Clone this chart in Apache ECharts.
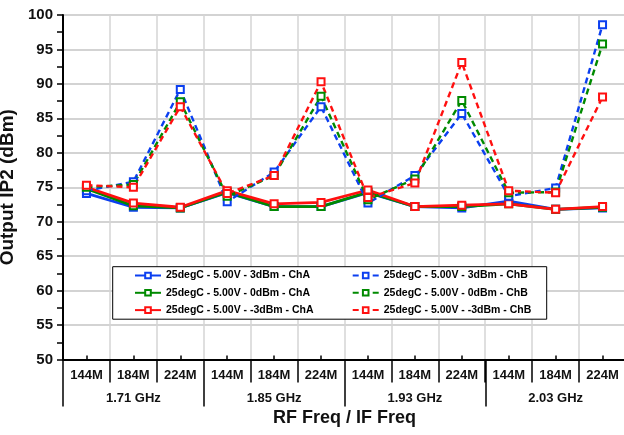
<!DOCTYPE html>
<html>
<head>
<meta charset="utf-8">
<script src="https://cdn.jsdelivr.net/npm/echarts@6/dist/echarts.min.js"></script>
<style>
  html, body { margin: 0; padding: 0; background: #fff; }
  #chart { width: 624px; height: 435px; }
</style>
</head>
<body>
<div id="chart"></div>
<script>
// categorias del eje X (IF) y grupos (RF)
const ifFreqs = ['144M', '184M', '224M', '144M', '184M', '224M', '144M', '184M', '224M', '144M', '184M', '224M'];
const rfFreqs = ['1.71 GHz', '1.85 GHz', '1.93 GHz', '2.03 GHz'];

// valores (dBm)
const blueA  = [74.1, 72.1, 72.0, 74.2, 72.2, 72.2, 74.2, 72.2, 72.0, 73.0, 71.8, 72.0];
const greenA = [74.8, 72.3, 72.0, 74.3, 72.2, 72.2, 74.3, 72.2, 72.2, 72.6, 71.8, 72.1];
const redA   = [75.0, 72.7, 72.1, 74.5, 72.6, 72.8, 74.6, 72.2, 72.4, 72.6, 71.8, 72.2];
const blueB  = [74.5, 75.8, 89.2, 72.9, 77.2, 86.7, 72.7, 76.7, 85.7, 73.7, 74.9, 98.6];
const greenB = [75.0, 75.4, 87.4, 73.7, 76.7, 88.2, 73.2, 76.2, 87.6, 74.2, 74.3, 95.8];
const redB   = [75.3, 75.0, 86.7, 74.1, 76.7, 90.3, 73.5, 75.6, 93.1, 74.5, 74.2, 88.1];

const seriesNames = [
  '25degC - 5.00V - 3dBm - ChA',
  '25degC - 5.00V - 0dBm - ChA',
  '25degC - 5.00V - -3dBm - ChA',
  '25degC - 5.00V - 3dBm - ChB',
  '25degC - 5.00V - 0dBm - ChB',
  '25degC - 5.00V - -3dBm - ChB'
];

const BLUE = '#0b3ff0';
const GREEN = '#008a00';
const RED = '#ff1010';
const FONT = '"Liberation Sans", Arial, sans-serif';

function linea(nombre, datos, color, discontinua) {
  return {
    name: nombre,
    type: 'line',
    data: datos,
    symbol: 'emptyRect',
    symbolSize: 7,
    xAxisIndex: 0,
    color: color,
    itemStyle: { color: color, borderColor: color, borderWidth: 1.2 },
    lineStyle: {
      color: color,
      width: discontinua ? 2.4 : 2.8,
      type: discontinua ? [6, 4] : 'solid'
    },
    emphasis: { disabled: true },
    animation: false
  };
}

const chart = echarts.init(document.getElementById('chart'));

const legendBase = {
  orient: 'vertical',
  padding: 0,
  itemWidth: 26,
  itemHeight: 7,
  itemGap: 5.3,
  textStyle: { fontFamily: FONT, fontWeight: 'bold', fontSize: 10.5, color: '#000', lineHeight: 12 },
  selectedMode: false
};

chart.setOption({
  backgroundColor: '#fff',
  animation: false,
  grid: { left: 63, right: -2, top: 15, bottom: 75.5, outerBoundsMode: 'none' },
  graphic: [{
    type: 'rect',
    z: 1,
    shape: { x: 112.7, y: 266.7, width: 434, height: 52.5 },
    style: { fill: '#fff', stroke: '#000', lineWidth: 1 }
  }],
  legend: [
    Object.assign({}, legendBase, { left: 134, top: 269.5, data: seriesNames.slice(0, 3) }),
    Object.assign({}, legendBase, { left: 351.7, top: 269.5, data: seriesNames.slice(3) })
  ],
  xAxis: [
    {
      type: 'category',
      data: ifFreqs,
      position: 'bottom',
      boundaryGap: true,
      axisLine: { show: true, lineStyle: { color: '#000', width: 2 } },
      axisTick: { show: true, interval: 0, length: 23, lineStyle: { color: '#000', width: 1.5 } },
      axisLabel: { interval: 0, margin: 9, fontFamily: FONT, fontWeight: 'bold', fontSize: 13, color: '#111' },
      splitLine: { show: true, interval: 0, lineStyle: { color: '#d4d4d4', width: 1.5 } }
    },
    {
      type: 'category',
      data: rfFreqs,
      position: 'bottom',
      boundaryGap: true,
      axisLine: { show: false },
      axisTick: { show: true, interval: 0, length: 47, lineStyle: { color: '#000', width: 1.5 } },
      axisLabel: { interval: 0, margin: 32, fontFamily: FONT, fontWeight: 'bold', fontSize: 13, color: '#111' },
      splitLine: { show: false },
      name: 'RF Freq / IF Freq',
      nameLocation: 'middle',
      nameGap: 47,
      nameTextStyle: { fontFamily: FONT, fontWeight: 'bold', fontSize: 18, color: '#111' }
    },
    {
      type: 'category',
      data: ifFreqs,
      position: 'bottom',
      boundaryGap: true,
      axisLine: { show: false },
      axisTick: { show: true, alignWithLabel: true, inside: true, interval: 0, length: 4, lineStyle: { color: '#000', width: 1.5 } },
      axisLabel: { show: false },
      splitLine: { show: false }
    }
  ],
  yAxis: {
    type: 'value',
    min: 50,
    max: 100,
    interval: 5,
    name: 'Output IP2 (dBm)',
    nameLocation: 'middle',
    nameGap: 39,
    nameTextStyle: { fontFamily: FONT, fontWeight: 'bold', fontSize: 19, color: '#111' },
    axisLine: { show: true, lineStyle: { color: '#000', width: 2 } },
    axisTick: { show: true, length: 6, lineStyle: { color: '#000', width: 1.5 } },
    minorTick: { show: true, splitNumber: 2, length: 6, lineStyle: { color: '#000', width: 1.5 } },
    axisLabel: { margin: 10, fontFamily: FONT, fontWeight: 'bold', fontSize: 15, color: '#111' },
    splitLine: { show: true, lineStyle: { color: '#c4c4c4', width: 1.5 } }
  },
  series: [
    linea(seriesNames[0], blueA, BLUE, false),
    linea(seriesNames[1], greenA, GREEN, false),
    linea(seriesNames[2], redA, RED, false),
    linea(seriesNames[3], blueB, BLUE, true),
    linea(seriesNames[4], greenB, GREEN, true),
    linea(seriesNames[5], redB, RED, true)
  ]
});
</script>
</body>
</html>
